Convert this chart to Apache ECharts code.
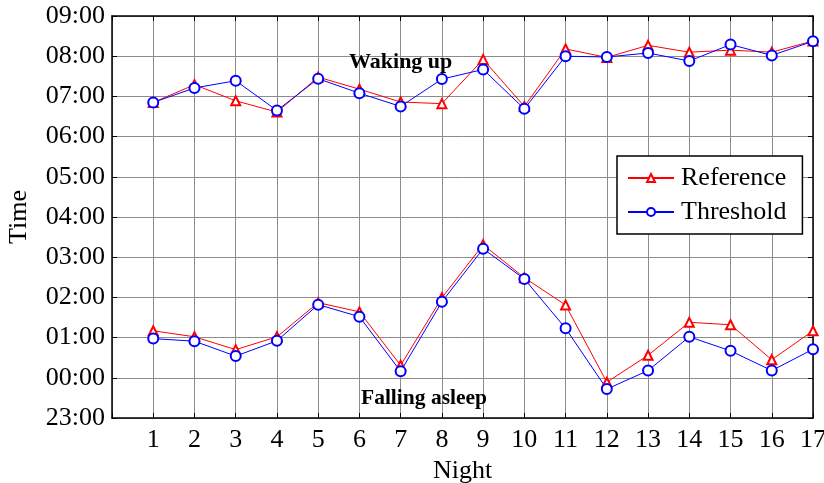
<!DOCTYPE html>
<html>
<head>
<meta charset="utf-8">
<script src="https://cdn.jsdelivr.net/npm/echarts@6/dist/echarts.min.js"></script>
<style>
  html, body { margin: 0; padding: 0; background: #fff; }
  #chart { width: 824px; height: 483px; }
</style>
</head>
<body>
<div id="chart"></div>
<script>
// nights on x, hours after midnight on y (23:00 = -1)
var nights = [1, 2, 3, 4, 5, 6, 7, 8, 9, 10, 11, 12, 13, 14, 15, 16, 17];
var refWake = [6.85, 7.29, 6.89, 6.61, 7.48, 7.18, 6.86, 6.82, 7.92, 6.75, 8.18, 7.97, 8.27, 8.10, 8.15, 8.10, 8.38];
var thrWake = [6.85, 7.21, 7.39, 6.65, 7.44, 7.08, 6.75, 7.43, 7.67, 6.69, 8.00, 7.98, 8.08, 7.88, 8.29, 8.02, 8.37];
var refSleep = [1.17, 1.02, 0.70, 1.02, 1.87, 1.64, 0.31, 1.99, 3.31, 2.49, 1.81, -0.11, 0.56, 1.38, 1.32, 0.45, 1.17];
var thrSleep = [0.975, 0.91, 0.54, 0.92, 1.82, 1.52, 0.16, 1.89, 3.21, 2.46, 1.23, -0.28, 0.18, 1.02, 0.67, 0.18, 0.71];
var hourTicks = ['23:00', '00:00', '01:00', '02:00', '03:00', '04:00', '05:00', '06:00', '07:00', '08:00', '09:00'];

function pairs(ys) {
  return nights.map(function (n, i) { return [n, ys[i]]; });
}

var font = '"Liberation Serif", "Times New Roman", serif';
var chart = echarts.init(document.getElementById('chart'));

function lineSeries(name, color, symbol, size, ys) {
  return {
    name: name,
    type: 'line',
    data: pairs(ys),
    symbol: symbol,
    symbolSize: size,
    color: color,
    lineStyle: { color: color, width: 1 },
    itemStyle: { color: color, borderColor: color, borderWidth: 1 },
    emphasis: { disabled: true },
    z: 5
  };
}

var option = {
  animation: false,
  backgroundColor: '#fff',
  grid: { left: 112, right: 11, top: 16, bottom: 65, outerBoundsMode: 'none' },
  legend: {
    left: 617,
    top: 156,
    orient: 'vertical',
    width: 183,
    padding: [9, 16, 9, 10],
    itemGap: 8,
    itemWidth: 46,
    itemHeight: 10,
    backgroundColor: '#fff',
    borderColor: '#000',
    borderWidth: 1.5,
    borderRadius: 0,
    textStyle: { fontFamily: font, fontSize: 26, color: '#000', padding: [0, 0, 0, 2] },
    data: ['Reference', 'Threshold']
  },
  xAxis: [{
    type: 'value',
    min: 0,
    max: 17,
    interval: 1,
    name: 'Night',
    nameLocation: 'middle',
    nameGap: 34,
    nameTextStyle: { fontFamily: font, fontSize: 26, color: '#000' },
    axisLine: { show: true, onZero: false, lineStyle: { color: '#000', width: 1.5 } },
    axisTick: { inside: true, length: 5, lineStyle: { color: '#000' } },
    axisLabel: {
      fontFamily: font, fontSize: 26, color: '#000', margin: 9,
      formatter: function (v) { return v === 0 ? '' : String(v); }
    },
    splitLine: { show: true, lineStyle: { color: '#8c8c8c', width: 1 } }
  }, {
    type: 'value',
    position: 'top',
    min: 0,
    max: 17,
    interval: 1,
    axisLine: { show: true, onZero: false, lineStyle: { color: '#000', width: 1.5 } },
    axisTick: { inside: true, length: 5, lineStyle: { color: '#000' } },
    axisLabel: { show: false },
    splitLine: { show: false }
  }],
  yAxis: [{
    type: 'value',
    min: -1,
    max: 9,
    interval: 1,
    name: 'Time',
    nameLocation: 'middle',
    nameGap: 80,
    nameRotate: 90,
    nameTextStyle: { fontFamily: font, fontSize: 26, color: '#000' },
    axisLine: { show: true, onZero: false, lineStyle: { color: '#000', width: 1.5 } },
    axisTick: { inside: true, length: 5, lineStyle: { color: '#000' } },
    axisLabel: {
      fontFamily: font, fontSize: 26, color: '#000', margin: 7,
      formatter: function (v) { return hourTicks[Math.round(v) + 1]; }
    },
    splitLine: { show: true, lineStyle: { color: '#8c8c8c', width: 1 } }
  }, {
    type: 'value',
    position: 'right',
    min: -1,
    max: 9,
    interval: 1,
    axisLine: { show: true, onZero: false, lineStyle: { color: '#000', width: 1.5 } },
    axisTick: { inside: true, length: 5, lineStyle: { color: '#000' } },
    axisLabel: { show: false },
    splitLine: { show: false }
  }],
  graphic: [{
    type: 'text',
    left: 349,
    top: 51,
    z: 10,
    style: { text: 'Waking up', fontFamily: font, fontSize: 22, fontWeight: 'bold', fill: '#000' }
  }, {
    type: 'text',
    left: 361,
    top: 387,
    z: 10,
    style: { text: 'Falling asleep', fontFamily: font, fontSize: 21.5, fontWeight: 'bold', fill: '#000' }
  }],
  series: [
    lineSeries('Reference', '#ff0000', 'emptyTriangle', 9, refWake),
    lineSeries('Threshold', '#0000ff', 'emptyCircle', 10, thrWake),
    lineSeries('Reference', '#ff0000', 'emptyTriangle', 9, refSleep),
    lineSeries('Threshold', '#0000ff', 'emptyCircle', 10, thrSleep)
  ]
};

chart.setOption(option);
</script>
</body>
</html>
